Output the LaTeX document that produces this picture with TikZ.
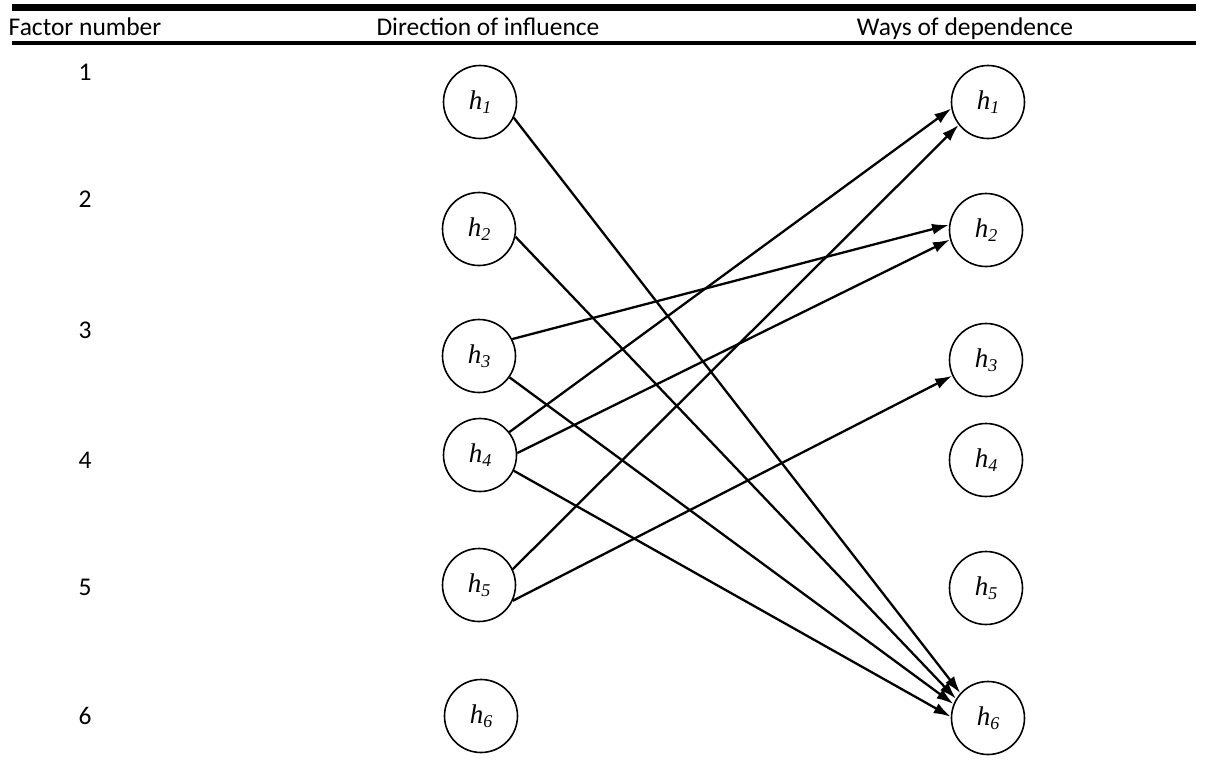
\documentclass[tikz,border=0pt]{standalone}
\usepackage{fontspec}
\setmainfont{Carlito}
\newfontfamily\labelserif{Liberation Serif}
\usetikzlibrary{arrows.meta}

\newcommand{\hvar}[1]{{\labelserif\itshape\fontsize{27}{27}\selectfont h\raisebox{-0.3ex}{\fontsize{18}{18}\selectfont #1}}}

\begin{document}
\begin{tikzpicture}[x=1pt,y=-1pt,
  headtext/.style={font=\fontsize{25.5}{26}\selectfont, anchor=base},
  numtext/.style={font=\fontsize{25.5}{26}\selectfont},
  factor/.style={circle, draw, line width=1.6pt, minimum size=73pt, inner sep=0pt},
  link/.style={line width=2.3pt, -{Latex[length=17pt,width=11pt]}}
]
\useasboundingbox (0,0) rectangle (1208,780);

% table rules
\draw[line width=7pt] (12,7.5) -- (1196,7.5);
\draw[line width=3.5pt] (12,43) -- (1196,43);

% column headers
\node[headtext] (hA) at (85,35.5) {Factor number};
\node[headtext] (hB) at (488,35.5) {Direction of influence};
\node[headtext] (hC) at (965,35.5) {Ways of dependence};

% factor numbers
\node[numtext] (n1) at (85,72) {1};
\node[numtext] (n2) at (85,199) {2};
\node[numtext] (n3) at (85,330) {3};
\node[numtext] (n4) at (85,460) {4};
\node[numtext] (n5) at (85,587) {5};
\node[numtext] (n6) at (85,716) {6};

% influencing factors
\node[factor] (L1) at (480,102) {\hvar{1}};
\node[factor] (L2) at (479,229) {\hvar{2}};
\node[factor] (L3) at (479,356) {\hvar{3}};
\node[factor] (L4) at (480,455) {\hvar{4}};
\node[factor] (L5) at (479,585) {\hvar{5}};
\node[factor] (L6) at (481,716) {\hvar{6}};

% dependent factors
\node[factor] (R1) at (988,102) {\hvar{1}};
\node[factor] (R2) at (986,230) {\hvar{2}};
\node[factor] (R3) at (986,360) {\hvar{3}};
\node[factor] (R4) at (986,460) {\hvar{4}};
\node[factor] (R5) at (986,588) {\hvar{5}};
\node[factor] (R6) at (988,718) {\hvar{6}};

% directions of influence
\draw[link] (L1.-25) -- (R6.138);
\draw[link] (L2.-12) -- (R6.149);
\draw[link] (L3.27) -- (R2.172);
\draw[link] (L3.-35) -- (R6.158);
\draw[link] (L4.38) -- (R1.190);
\draw[link] (L4.3) -- (R2.195);
\draw[link] (L4.-25) -- (R6.178);
\draw[link] (L5.25) -- (R1.218);
\draw[link] (L5.-25) -- (R3.205);
\end{tikzpicture}
\end{document}
